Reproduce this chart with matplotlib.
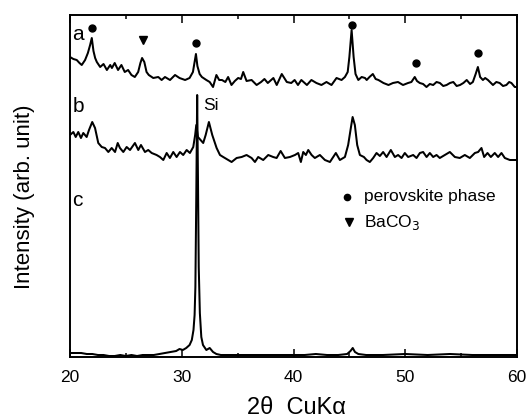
import matplotlib
matplotlib.use("Agg")
import matplotlib.pyplot as plt
from matplotlib.ticker import MultipleLocator, NullLocator

plt.rcParams['font.family'] = ['Liberation Sans', 'DejaVu Sans']

# ---- data (2theta in degrees, intensity in arb. units) ----
a_x = [20.0, 20.3, 20.6, 20.85, 21.05, 21.35, 21.6, 21.8, 21.95, 22.1, 22.25, 22.4, 22.7, 23.0,
       23.3, 23.6, 23.75, 24.0, 24.3, 24.6, 24.9, 25.2, 25.5, 25.8, 26.1, 26.3, 26.45, 26.65,
       26.85, 27.05, 27.45, 27.9, 28.2, 28.5, 28.95, 29.4, 29.8, 30.3, 30.7, 31.0, 31.15, 31.27,
       31.4, 31.6, 31.8, 32.2, 32.5, 32.8, 33.1, 33.35, 33.6, 33.9, 34.15, 34.45, 34.75, 35.05,
       35.3, 35.5, 35.8, 36.25, 36.7, 37.1, 37.4, 37.7, 38.2, 38.5, 38.95, 39.4, 39.8, 40.1,
       40.4, 40.7, 41.2, 41.6, 42.05, 42.5, 42.95, 43.4, 43.85, 44.3, 44.6, 44.85, 45.0, 45.2,
       45.38, 45.55, 45.8, 46.1, 46.4, 46.55, 46.8, 47.1, 47.35, 47.6, 48.05, 48.5, 48.9, 49.35,
       49.8, 50.25, 50.55, 50.85, 51.05, 51.3, 51.6, 51.9, 52.2, 52.5, 52.8, 53.1, 53.4, 53.7,
       54.0, 54.3, 54.6, 54.9, 55.2, 55.5, 55.8, 56.05, 56.3, 56.5, 56.7, 56.95, 57.15, 57.4,
       57.85, 58.15, 58.45, 58.75, 59.05, 59.3, 59.5, 59.8, 60.0]
a_y = [300, 298, 297, 294, 292, 297, 304, 312, 319, 306, 299, 295, 290, 293,
       287, 292, 289, 294, 287, 292, 285, 287, 282, 280, 285, 294, 299, 295,
       285, 282, 279, 280, 277, 280, 277, 282, 279, 277, 279, 285, 295, 303,
       291, 283, 280, 277, 275, 270, 282, 277, 277, 275, 280, 272, 276, 279,
       278, 285, 276, 277, 272, 275, 278, 274, 279, 272, 283, 275, 274, 277,
       272, 277, 272, 277, 274, 272, 275, 272, 279, 277, 280, 285, 300, 327,
       300, 283, 277, 280, 279, 277, 280, 283, 278, 277, 274, 272, 274, 275,
       272, 274, 275, 280, 276, 274, 273, 270, 273, 272, 275, 274, 271, 272,
       274, 275, 271, 272, 274, 277, 273, 275, 283, 290, 280, 277, 279, 277,
       272, 275, 274, 271, 272, 275, 274, 270, 270]

b_x = [20.0, 20.3, 20.51, 20.74, 20.98, 21.19, 21.49, 21.7, 21.99, 22.24, 22.53, 22.84, 23.13,
       23.43, 23.73, 24.03, 24.27, 24.47, 24.77, 25.07, 25.37, 25.81, 26.11, 26.35, 26.71, 27.0,
       27.31, 27.75, 28.05, 28.35, 28.65, 28.94, 29.24, 29.54, 29.84, 30.13, 30.44, 30.73, 31.03,
       31.2, 31.3, 31.45, 31.92, 32.14, 32.43, 32.73, 33.12, 33.42, 33.71, 34.46, 34.91, 35.36,
       35.8, 36.25, 36.55, 36.84, 37.29, 37.74, 38.18, 38.49, 38.85, 39.23, 39.68, 40.13, 40.42,
       40.66, 40.87, 41.11, 41.32, 41.62, 41.91, 42.36, 42.81, 43.26, 43.79, 44.15, 44.6, 44.89,
       45.13, 45.29, 45.49, 45.7, 45.94, 46.3, 46.54, 46.83, 47.13, 47.43, 47.73, 48.02, 48.33,
       48.71, 49.07, 49.36, 49.67, 49.96, 50.26, 50.71, 51.01, 51.31, 51.6, 51.91, 52.2, 52.5,
       52.8, 53.09, 53.54, 53.99, 54.44, 54.88, 55.33, 55.78, 56.23, 56.52, 56.82, 57.06, 57.36,
       57.66, 58.01, 58.31, 58.61, 58.91, 59.36, 59.8, 60.0]
b_y = [222, 225, 220, 225, 219, 224, 220, 227, 235, 229, 214, 210, 209,
       205, 209, 205, 214, 209, 205, 210, 207, 214, 207, 212, 205, 207,
       204, 202, 200, 197, 204, 199, 205, 200, 205, 202, 207, 204, 210,
       222, 232, 220, 214, 222, 235, 222, 209, 202, 200, 195, 199, 200,
       202, 199, 195, 200, 197, 202, 200, 199, 206, 199, 200, 202, 204,
       195, 205, 202, 207, 202, 199, 202, 197, 195, 204, 197, 200, 212,
       229, 240, 232, 212, 202, 200, 197, 195, 199, 204, 201, 205, 200,
       207, 200, 202, 199, 204, 200, 202, 199, 204, 205, 200, 204, 200,
       202, 199, 202, 205, 200, 199, 202, 199, 204, 205, 209, 200, 204,
       200, 204, 200, 204, 199, 197, 197, 197]

c_x = [20.0, 20.5, 21.0, 21.5, 22.0, 22.5, 23.0, 23.5, 24.0, 24.5, 25.0, 25.5, 26.0, 26.5,
       27.0, 27.5, 28.0, 28.5, 29.0, 29.5, 29.8, 30.1, 30.4, 30.7, 30.9, 31.05, 31.15, 31.22,
       31.3, 31.38, 31.45, 31.52, 31.62, 31.75, 31.9, 32.2, 32.5, 32.8, 33.1, 33.5, 34.0, 35.0,
       36.0, 37.0, 38.0, 39.0, 40.0, 41.0, 42.0, 43.0, 44.0, 44.8, 45.1, 45.3, 45.5, 45.8,
       46.5, 48.0, 50.0, 52.0, 54.0, 56.0, 58.0, 60.0]
c_y = [4, 4, 4, 3, 3, 2, 2, 1, 1, 2, 1, 2, 1, 2,
       2, 2, 3, 4, 5, 6, 8, 7, 9, 12, 17, 27, 42, 70,
       160, 262, 180, 90, 44, 20, 12, 7, 9, 5, 3, 2, 2, 2,
       2, 2, 2, 2, 2, 2, 3, 2, 2, 3, 6, 9, 5, 3,
       2, 2, 3, 2, 3, 2, 2, 2]

# phase markers above the peaks
perov_x = [21.95, 31.27, 45.22, 50.95, 56.52]
perov_y = [329, 314, 332, 294, 304]
baco3_x = [26.55]
baco3_y = [317]

xticks = [20, 30, 40, 50, 60]

# ---- figure ----
W, H = 532, 418
fig = plt.figure(figsize=(W / 100, H / 100), dpi=100)
ax = fig.add_axes([70 / W, 1 - 357 / H, 447 / W, 342 / H])

lw = 1.45
for xs, ys in ((a_x, a_y), (b_x, b_y), (c_x, c_y)):
    ax.plot(xs, ys, color='black', lw=lw, solid_joinstyle='round')

ax.plot(perov_x, perov_y, 'o', color='black', ms=5)
ax.plot(baco3_x, baco3_y, 'v', color='black', ms=6)

ax.set_xlim(20, 60)
ax.set_ylim(0, 342)
ax.set_xticks(xticks)
ax.xaxis.set_minor_locator(MultipleLocator(5))
ax.yaxis.set_major_locator(NullLocator())
ax.tick_params(axis='x', which='both', direction='in', top=True, labelsize=12.5, pad=9)
ax.tick_params(axis='x', which='major', length=6, width=1.1)
ax.tick_params(axis='x', which='minor', length=3, width=1.1)
for s in ax.spines.values():
    s.set_linewidth(1.4)

# curve labels
ax.text(20.2, 322, 'a', fontsize=15, ha='left', va='center')
ax.text(20.2, 251, 'b', fontsize=15, ha='left', va='center')
ax.text(20.2, 157, 'c', fontsize=15, ha='left', va='center')
ax.text(31.95, 252, 'Si', fontsize=12.5, ha='left', va='center')

# legend (drawn as in the original)
ax.plot([44.8], [160], 'o', color='black', ms=4.5)
ax.text(46.3, 160, 'perovskite phase', fontsize=12.5, ha='left', va='center')
ax.plot([45.0], [135], 'v', color='black', ms=5.5)
ax.text(46.3, 135, 'BaCO$_3$', fontsize=12.5, ha='left', va='center')

fig.text(24.5 / W, 1 - 197 / H, 'Intensity (arb. unit)', rotation=90, fontsize=16,
         ha='center', va='center')
fig.text(296 / W, 1 - 408 / H, '2θ  CuKα', fontsize=17, ha='center', va='center')

fig.savefig('out.png', dpi=100)
